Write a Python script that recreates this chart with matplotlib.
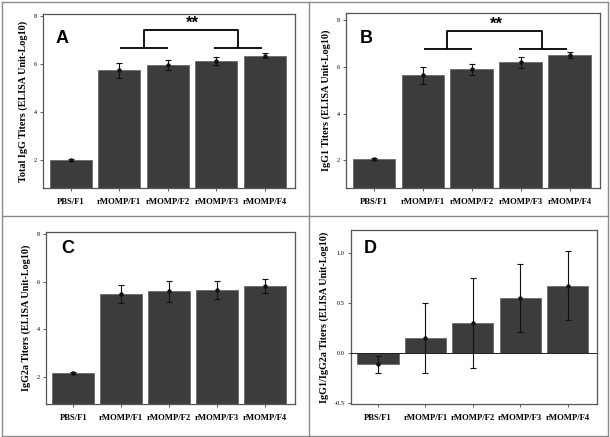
import matplotlib
matplotlib.use("Agg")
import matplotlib.pyplot as plt
from matplotlib.lines import Line2D
import numpy as np

categories = ['PBS/F1', 'rMOMP/F1', 'rMOMP/F2', 'rMOMP/F3', 'rMOMP/F4']

total_igg = [2.02, 5.75, 5.98, 6.15, 6.36]
total_igg_err = [0.04, 0.31, 0.22, 0.17, 0.11]

igg1 = [2.04, 5.64, 5.89, 6.19, 6.50]
igg1_err = [0.04, 0.36, 0.23, 0.24, 0.12]

igg2a = [2.18, 5.49, 5.59, 5.65, 5.82]
igg2a_err = [0.06, 0.38, 0.43, 0.36, 0.28]

ratio = [-0.11, 0.15, 0.30, 0.55, 0.675]
ratio_err = [0.085, 0.35, 0.45, 0.34, 0.345]

ylabels = ['Total IgG Titers (ELISA Unit-Log10)',
           'IgG1 Titers (ELISA Unit-Log10)',
           'IgG2a Titers (ELISA Unit-Log10)',
           'IgG1/IgG2a Titers (ELISA Unit-Log10)']
letters = ['A', 'B', 'C', 'D']

W, H = 610, 437
fig = plt.figure(figsize=(W / 100, H / 100), dpi=100)

def ax_at(x0, y0, x1, y1):
    return fig.add_axes([x0 / W, 1 - y1 / H, (x1 - x0) / W, (y1 - y0) / H])

# panel frames (gray grid)
gc = '#8a8a8a'
for (xa, ya, xb, yb) in [(2, 2, 2, 436), (608, 2, 608, 436), (2, 2, 608, 2),
                         (2, 436, 608, 436), (309, 2, 309, 436), (2, 216, 608, 216)]:
    fig.add_artist(Line2D([xa / W, xb / W], [1 - ya / H, 1 - yb / H],
                          color=gc, lw=1.0, transform=fig.transFigure))

axes = [ax_at(43, 14, 295, 188), ax_at(346, 13, 600, 188),
        ax_at(46, 232, 295, 404), ax_at(351, 230, 597, 404)]
ylims = [(0.85, 8.1), (0.82, 8.29), (0.88, 8.08), (-0.51, 1.23)]
datas = [(total_igg, total_igg_err), (igg1, igg1_err), (igg2a, igg2a_err), (ratio, ratio_err)]
letter_pos = [(0.048, 0.833), (0.056, 0.83), (0.063, 0.878), (0.05, 0.868)]

serif = ['Liberation Serif', 'DejaVu Serif']
x = np.arange(len(categories))

for i, ax in enumerate(axes):
    vals, errs = datas[i]
    ax.bar(x, vals, width=0.87, color='#3c3c3c', edgecolor='#6a6a6a', linewidth=0.6, zorder=2)
    ax.errorbar(x, vals, yerr=errs, fmt='o', color='#111111', ms=2.2, elinewidth=0.8,
                capsize=2.5, capthick=0.8, zorder=3)
    ax.set_xlim(-0.57, 4.62)
    ax.set_ylim(*ylims[i])
    ax.set_xticks(x)
    ax.set_xticklabels(categories, fontfamily=serif, fontweight='bold', fontsize=6.2)
    if i < 3:
        ax.set_yticks([2, 4, 6, 8])
        ax.set_yticklabels(['2', '4', '6', '8'], fontfamily=serif, fontsize=4.5)
    else:
        ax.set_yticks([-0.5, 0.0, 0.5, 1.0])
        ax.set_yticklabels(['-0.5', '0.0', '0.5', '1.0'], fontfamily=serif, fontsize=4.5)
        ax.axhline(0, color='#222222', lw=0.7, zorder=4)
    ax.tick_params(axis='both', length=2.5, width=0.6, color='#444444', pad=2)
    ax.tick_params(axis='x', pad=5)
    for s in ax.spines.values():
        s.set_color('#555555')
        s.set_linewidth(0.9)
    ax.set_ylabel(ylabels[i], fontfamily=serif, fontweight='bold', fontsize=7.3, labelpad=4)
    ax.text(letter_pos[i][0], letter_pos[i][1], letters[i], transform=ax.transAxes,
            fontfamily='Liberation Sans', fontweight='bold', fontsize=13, ha='left', va='baseline')

# significance brackets
for ax, low, top, star in [(axes[0], 6.68, 7.45, 7.72), (axes[1], 6.76, 7.53, 7.8)]:
    kw = dict(color='black', lw=1.3, solid_capstyle='butt', zorder=5)
    ax.plot([1.02, 2.0], [low, low], **kw)
    ax.plot([2.96, 3.95], [low, low], **kw)
    ax.plot([1.5, 1.5, 3.44, 3.44], [low, top, top, low], **kw)
    ax.text(2.5, star, '**', ha='center', va='center', fontsize=12, fontweight='bold',
            fontfamily='Liberation Sans')

fig.savefig('out.png', dpi=100)
